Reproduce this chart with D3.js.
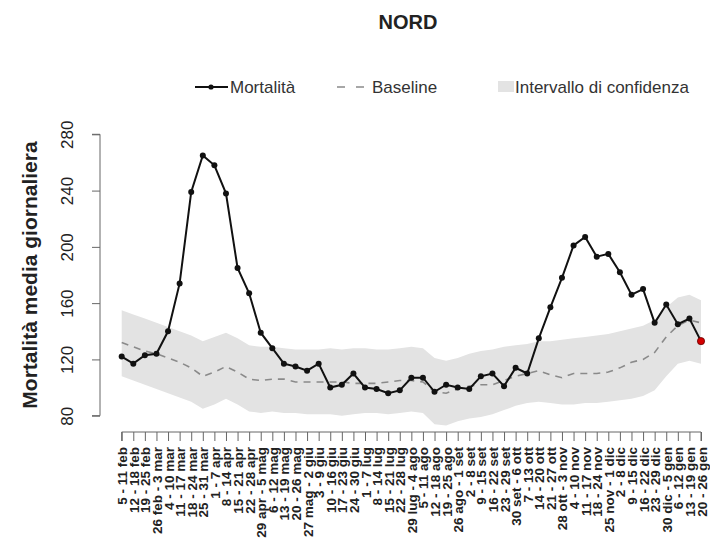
<!DOCTYPE html>
<html>
<head>
<meta charset="utf-8">
<script src="https://cdn.jsdelivr.net/npm/d3@7"></script>
<style>
  body { margin: 0; background: #fff; }
  text { font-family: "Liberation Sans", Arial, sans-serif; }
</style>
</head>
<body>
<div id="chart"></div>
<script>
// settimane (etichette asse x)
const weeks = [
  "5 - 11 feb", "12 - 18 feb", "19 - 25 feb", "26 feb - 3 mar", "4 - 10 mar",
  "11 - 17 mar", "18 - 24 mar", "25 - 31 mar", "1 - 7 apr", "8 - 14 apr",
  "15 - 21 apr", "22 - 28 apr", "29 apr - 5 mag", "6 - 12 mag", "13 - 19 mag",
  "20 - 26 mag", "27 mag - 2 giu", "3 - 9 giu", "10 - 16 giu", "17 - 23 giu",
  "24 - 30 giu", "1 - 7 lug", "8 - 14 lug", "15 - 21 lug", "22 - 28 lug",
  "29 lug - 4 ago", "5 - 11 ago", "12 - 18 ago", "19 - 25 ago", "26 ago - 1 set",
  "2 - 8 set", "9 - 15 set", "16 - 22 set", "23 - 29 set", "30 set - 6 ott",
  "7 - 13 ott", "14 - 20 ott", "21 - 27 ott", "28 ott - 3 nov", "4 - 10 nov",
  "11 - 17 nov", "18 - 24 nov", "25 nov - 1 dic", "2 - 8 dic", "9 - 15 dic",
  "16 - 22 dic", "23 - 29 dic", "30 dic - 5 gen", "6 - 12 gen", "13 - 19 gen",
  "20 - 26 gen"
];

const mortalita = [
  122, 117, 123, 124, 140, 174, 239, 265, 258, 238,
  185, 167, 139, 128, 117, 115, 112, 117, 100, 102,
  110, 100, 99, 96, 98, 107, 107, 97, 102, 100,
  99, 108, 110, 101, 114, 110, 135, 157, 178, 201,
  207, 193, 195, 182, 166, 170, 146, 159, 145, 149,
  133
];

const baseline = [
  132, 129, 126, 124, 121, 118, 114, 108, 111, 115,
  111, 106, 105, 106, 106, 104, 104, 104, 104, 104,
  103, 103, 103, 104, 105, 105, 104, 97, 96, 99,
  101, 102, 102, 105, 108, 110, 112, 109, 107, 110,
  110, 110, 111, 114, 118, 120, 125, 136, 144, 148,
  146
];

const ciUpper = [
  155, 152, 149, 146, 143, 140, 137, 133, 136, 139,
  135, 130, 129, 129, 128, 127, 127, 127, 128, 127,
  128, 128, 127, 127, 128, 129, 128, 121, 119, 121,
  124, 126, 127, 129, 130, 131, 133, 133, 134, 135,
  136, 137, 138, 140, 142, 144, 148, 157, 164, 166,
  162
];

const ciLower = [
  108, 105, 102, 99, 96, 93, 90, 85, 88, 92,
  88, 83, 82, 83, 82, 82, 81, 81, 81, 80,
  81, 82, 82, 81, 82, 83, 82, 74, 73, 76,
  78, 79, 81, 84, 87, 89, 90, 89, 88, 88,
  89, 89, 90, 91, 92, 94, 98, 108, 117, 119,
  117
];

const yTicks = [80, 120, 160, 200, 240, 280];

const W = 710, H = 547;
const svg = d3.select("#chart").append("svg")
  .attr("width", W).attr("height", H);

const x = d3.scalePoint().domain(weeks).range([121.7, 701]);
const y = d3.scaleLinear().domain([80, 280]).range([415.7, 134.3]);

const rows = weeks.map((w, i) => ({
  w, m: mortalita[i], b: baseline[i], lo: ciLower[i], hi: ciUpper[i]
}));

// intervallo di confidenza
svg.append("path")
  .datum(rows)
  .attr("fill", "#e3e3e3")
  .attr("d", d3.area().x(d => x(d.w)).y0(d => y(d.lo)).y1(d => y(d.hi)));

// baseline
svg.append("path")
  .datum(rows)
  .attr("fill", "none")
  .attr("stroke", "#8a8a8a")
  .attr("stroke-width", 1.6)
  .attr("stroke-dasharray", "7,6")
  .attr("d", d3.line().x(d => x(d.w)).y(d => y(d.b)));

// mortalita
svg.append("path")
  .datum(rows)
  .attr("fill", "none")
  .attr("stroke", "#111")
  .attr("stroke-width", 2)
  .attr("d", d3.line().x(d => x(d.w)).y(d => y(d.m)));

svg.selectAll(".pt")
  .data(rows)
  .enter().append("circle")
  .attr("class", "pt")
  .attr("cx", d => x(d.w))
  .attr("cy", d => y(d.m))
  .attr("r", (d, i) => i === rows.length - 1 ? 3.6 : 3)
  .attr("fill", (d, i) => i === rows.length - 1 ? "#d40000" : "#111")
  .attr("stroke", (d, i) => i === rows.length - 1 ? "#600" : "none")
  .attr("stroke-width", 0.8);

// asse y
const yAxis = svg.append("g")
  .attr("transform", "translate(100,0)")
  .call(d3.axisLeft(y).tickValues(yTicks).tickSize(8).tickFormat(d3.format("d")));
yAxis.select(".domain").attr("stroke", "#666").attr("d", `M-8,${y(80)}H0V${y(280)}H-8`);
yAxis.selectAll(".tick line").attr("stroke", "#666");
yAxis.selectAll(".tick text")
  .attr("x", null).attr("dy", null)
  .attr("text-anchor", "middle")
  .attr("transform", "translate(-27,0) rotate(-90)")
  .style("font-size", "17px")
  .attr("fill", "#222");

// asse x
const xAxis = svg.append("g")
  .attr("transform", "translate(0,432)")
  .call(d3.axisBottom(x).tickSize(9));
xAxis.select(".domain").attr("stroke", "#666")
  .attr("d", `M${x(weeks[0])},9V0H${x(weeks[weeks.length - 1])}V9`);
xAxis.selectAll(".tick line").attr("stroke", "#666");
xAxis.selectAll(".tick text")
  .attr("y", null).attr("dy", null)
  .attr("text-anchor", "end")
  .attr("transform", "translate(5,15) rotate(-90)")
  .style("font-size", "13.5px")
  .style("font-weight", "bold")
  .attr("fill", "#222");

// titolo asse y
svg.append("text")
  .attr("transform", `translate(37,${(y(80) + y(280)) / 2}) rotate(-90)`)
  .attr("text-anchor", "middle")
  .style("font-size", "21px")
  .style("font-weight", "bold")
  .attr("fill", "#222")
  .text("Mortalità media giornaliera");

// titolo
svg.append("text")
  .attr("x", 408).attr("y", 29)
  .attr("text-anchor", "middle")
  .style("font-size", "20px")
  .style("font-weight", "bold")
  .attr("fill", "#222")
  .text("NORD");

// legenda
const lg = svg.append("g");
lg.append("line").attr("x1", 195).attr("x2", 228).attr("y1", 87).attr("y2", 87)
  .attr("stroke", "#111").attr("stroke-width", 2);
lg.append("circle").attr("cx", 211).attr("cy", 87).attr("r", 2.6).attr("fill", "#111");
lg.append("text").attr("x", 230).attr("y", 93).text("Mortalità");

lg.append("line").attr("x1", 337).attr("x2", 364).attr("y1", 87).attr("y2", 87)
  .attr("stroke", "#8a8a8a").attr("stroke-width", 1.6).attr("stroke-dasharray", "8,11");
lg.append("text").attr("x", 372).attr("y", 93).text("Baseline");

lg.append("rect").attr("x", 498).attr("y", 81).attr("width", 16).attr("height", 11)
  .attr("fill", "#e3e3e3");
lg.append("text").attr("x", 515).attr("y", 93).text("Intervallo di confidenza");

lg.selectAll("text").style("font-size", "17px").attr("fill", "#333");
</script>
</body>
</html>
